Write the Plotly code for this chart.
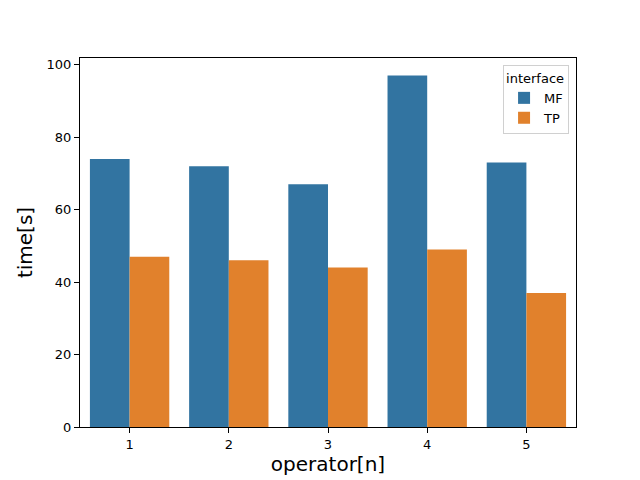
import plotly.graph_objects as go

# operator ids and timings per interface
operators = [1, 2, 3, 4, 5]
mf_times = [74, 72, 67, 97, 73]
tp_times = [47, 46, 44, 49, 37]

fig = go.Figure()
fig.add_trace(go.Bar(x=operators, y=mf_times, name='MF', marker_color='#3274a1', marker_line_width=0))
fig.add_trace(go.Bar(x=operators, y=tp_times, name='TP', marker_color='#e1812c', marker_line_width=0))

axis_style = dict(
    showline=True, linecolor='black', linewidth=1, mirror=True,
    ticks='outside', ticklen=5, tickcolor='black', showgrid=False, zeroline=False,
    tickfont=dict(size=13, color='black'), automargin=False,
)

# page body has an 8px margin, so the figure is sized 632x472
fig.update_layout(
    width=632, height=472,
    margin=dict(l=72, r=64, t=50, b=53),
    paper_bgcolor='white', plot_bgcolor='white',
    font=dict(family='DejaVu Sans', color='black'),
    barmode='group', bargap=0.2, bargroupgap=0,
    xaxis=dict(axis_style, range=[0.5, 5.5], tickvals=operators,
               title=dict(text='operator[n]', font=dict(size=20), standoff=6)),
    yaxis=dict(axis_style, range=[0, 101.85], tickvals=[0, 20, 40, 60, 80, 100],
               title=dict(text='time[s]', font=dict(size=20), standoff=8)),
    legend=dict(x=0.986, y=0.981, xanchor='right', yanchor='top',
                title=dict(text='interface', font=dict(size=13), side='top'),
                font=dict(size=13), bgcolor='white', bordercolor='#d0d0d0', borderwidth=1),
)

fig.write_html("out.html")
